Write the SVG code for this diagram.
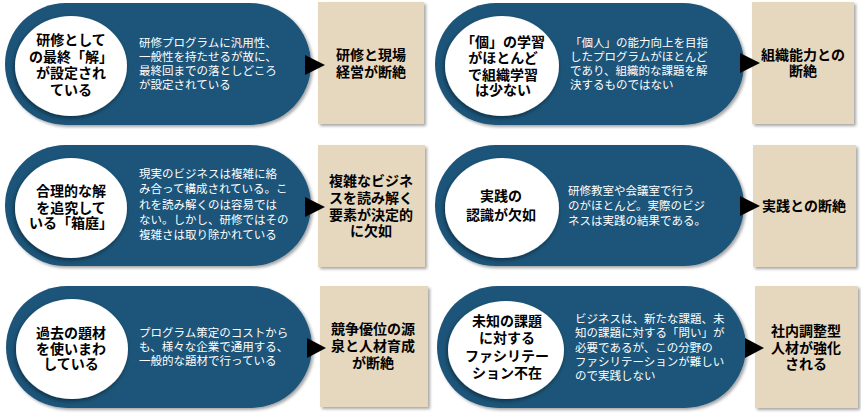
<svg xmlns="http://www.w3.org/2000/svg" width="861" height="415" viewBox="0 0 861 415">
<defs>
<filter id="sh" x="-10%" y="-10%" width="125%" height="125%">
<feDropShadow dx="2" dy="2" stdDeviation="1.5" flood-color="#000" flood-opacity="0.35"/>
</filter>
<filter id="csh" x="-10%" y="-10%" width="125%" height="125%">
<feDropShadow dx="-1" dy="2" stdDeviation="2" flood-color="#000" flood-opacity="0.45"/>
</filter>
</defs>
<style>
.pill{fill:#1E5579;filter:url(#sh)}
.circ{fill:#fff;filter:url(#csh)}
.box{fill:#E6D8BE;filter:url(#sh)}
.arr{fill:#000}
text{font-family:"Noto Sans CJK JP","Noto Sans",sans-serif}
.ct{font-size:14px;font-weight:bold;fill:#000;text-anchor:middle}
.dt{font-size:11.5px;fill:#fff}
.bt{font-size:14px;font-weight:bold;fill:#000;text-anchor:middle}
</style>
<rect width="861" height="415" fill="#fff"/>

<g id="n1">
<rect class="pill" x="5" y="3" width="306" height="122" rx="61"/>
<ellipse class="circ" cx="71" cy="66" rx="56" ry="50"/>
<text class="ct"><tspan x="71" y="45">研修として</tspan><tspan x="71" y="62">の最終「解」</tspan><tspan x="71" y="78">が設定され</tspan><tspan x="71" y="95">ている</tspan></text>
<text class="dt"><tspan x="139" y="47">研修プログラムに汎用性、</tspan><tspan x="139" y="61">一般性を持たせるが故に、</tspan><tspan x="139" y="75">最終回までの落としどころ</tspan><tspan x="139" y="89">が設定されている</tspan></text>
</g>
<g id="b1">
<rect class="box" x="318" y="2" width="106" height="122"/>
<text class="bt"><tspan x="371" y="60">研修と現場</tspan><tspan x="371" y="77">経営が断絶</tspan></text>
</g>

<g id="n2">
<rect class="pill" x="435" y="3" width="309" height="122" rx="61"/>
<ellipse class="circ" cx="502" cy="66" rx="57" ry="50"/>
<text class="ct"><tspan x="503" y="47">「個」の学習</tspan><tspan x="503" y="63">がほとんど</tspan><tspan x="503" y="80">で組織学習</tspan><tspan x="503" y="95">は少ない</tspan></text>
<text class="dt"><tspan x="570" y="47">「個人」の能力向上を目指</tspan><tspan x="570" y="61">したプログラムがほとんど</tspan><tspan x="570" y="75">であり、組織的な課題を解</tspan><tspan x="570" y="89">決するものではない</tspan></text>
</g>
<g id="b2">
<rect class="box" x="752" y="2" width="102" height="122"/>
<text class="bt"><tspan x="803" y="60">組織能力との</tspan><tspan x="803" y="76">断絶</tspan></text>
</g>

<g id="n3">
<rect class="pill" x="5" y="145" width="306" height="121" rx="60.5"/>
<ellipse class="circ" cx="71" cy="208" rx="56" ry="50"/>
<text class="ct"><tspan x="71" y="196">合理的な解</tspan><tspan x="71" y="213">を追究して</tspan><tspan x="71" y="228">いる「箱庭」</tspan></text>
<text class="dt"><tspan x="139" y="178">現実のビジネスは複雑に絡</tspan><tspan x="139" y="193">み合って構成されている。こ</tspan><tspan x="139" y="209">れを読み解くのは容易では</tspan><tspan x="139" y="224">ない。しかし、研修ではその</tspan><tspan x="139" y="239">複雑さは取り除かれている</tspan></text>
</g>
<g id="b3">
<rect class="box" x="318" y="145" width="107" height="122"/>
<text class="bt"><tspan x="371" y="186">複雑なビジネ</tspan><tspan x="371" y="203">スを読み解く</tspan><tspan x="371" y="220">要素が決定的</tspan><tspan x="371" y="236">に欠如</tspan></text>
</g>

<g id="n4">
<rect class="pill" x="435" y="145" width="309" height="121" rx="60.5"/>
<ellipse class="circ" cx="502" cy="208" rx="57" ry="50"/>
<text class="ct"><tspan x="501" y="201">実践の</tspan><tspan x="501" y="220">認識が欠如</tspan></text>
<text class="dt"><tspan x="568" y="195">研修教室や会議室で行う</tspan><tspan x="568" y="210">のがほとんど。実際のビジ</tspan><tspan x="568" y="225">ネスは実践の結果である。</tspan></text>
</g>
<g id="b4">
<rect class="box" x="753" y="145" width="103" height="122"/>
<text class="bt"><tspan x="804" y="211">実践との断絶</tspan></text>
</g>

<g id="n5">
<rect class="pill" x="6" y="286" width="306" height="122" rx="61"/>
<ellipse class="circ" cx="72" cy="349" rx="56" ry="50"/>
<text class="ct"><tspan x="71" y="338">過去の題材</tspan><tspan x="71" y="354">を使いまわ</tspan><tspan x="71" y="369">している</tspan></text>
<text class="dt"><tspan x="139" y="337">プログラム策定のコストから</tspan><tspan x="139" y="351">も、様々な企業で通用する、</tspan><tspan x="139" y="365">一般的な題材で行っている</tspan></text>
</g>
<g id="b5">
<rect class="box" x="320" y="286" width="108" height="121"/>
<text class="bt"><tspan x="373" y="334">競争優位の源</tspan><tspan x="373" y="351">泉と人材育成</tspan><tspan x="373" y="368">が断絶</tspan></text>
</g>

<g id="n6">
<rect class="pill" x="437" y="286" width="309" height="122" rx="61"/>
<ellipse class="circ" cx="506" cy="350" rx="58" ry="49"/>
<text class="ct"><tspan x="507" y="326">未知の課題</tspan><tspan x="507" y="343">に対する</tspan><tspan x="507" y="361">ファシリテー</tspan><tspan x="507" y="378">ション不在</tspan></text>
<text class="dt"><tspan x="575" y="323">ビジネスは、新たな課題、未</tspan><tspan x="575" y="337">知の課題に対する「問い」が</tspan><tspan x="575" y="352">必要であるが、この分野の</tspan><tspan x="575" y="366">ファシリテーションが難しい</tspan><tspan x="575" y="380">ので実践しない</tspan></text>
</g>
<g id="b6">
<rect class="box" x="755" y="286" width="103" height="122"/>
<text class="bt"><tspan x="806" y="336">社内調整型</tspan><tspan x="806" y="353">人材が強化</tspan><tspan x="806" y="369">される</tspan></text>
</g>

<g id="connectors">
<polygon class="arr" points="305,55 325,65 305,75"/>
<polygon class="arr" points="740,53 760,63 740,73"/>
<polygon class="arr" points="305,197 325,207 305,217"/>
<polygon class="arr" points="740,196 760,206 740,216"/>
<polygon class="arr" points="307,338 326,348 307,358"/>
<polygon class="arr" points="745,338 764,348 745,358"/>
</g>
</svg>
